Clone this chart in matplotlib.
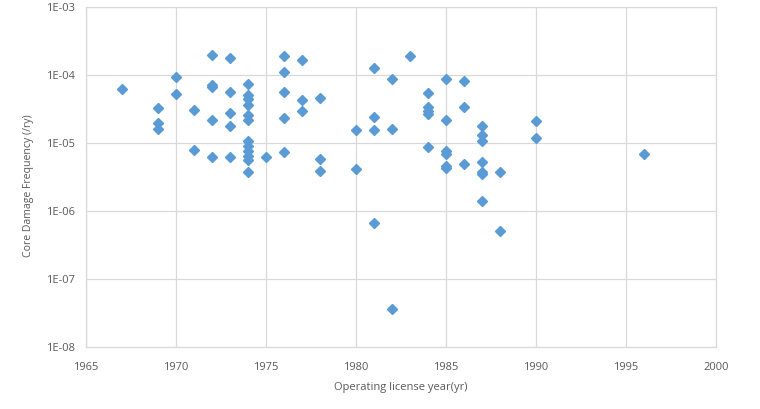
import matplotlib
matplotlib.use("Agg")
import matplotlib.pyplot as plt
from matplotlib.ticker import FixedLocator

plt.rcParams['font.family'] = ['Open Sans', 'DejaVu Sans']

years = [1967,
         1969, 1969, 1969,
         1970, 1970,
         1971, 1971,
         1972, 1972, 1972, 1972, 1972,
         1973, 1973, 1973, 1973, 1973,
         1974, 1974, 1974, 1974, 1974, 1974, 1974, 1974, 1974, 1974, 1974, 1974,
         1975,
         1976, 1976, 1976, 1976, 1976,
         1977, 1977, 1977,
         1978, 1978, 1978,
         1980, 1980,
         1981, 1981, 1981, 1981,
         1982, 1982, 1982,
         1983,
         1984, 1984, 1984, 1984, 1984,
         1985, 1985, 1985, 1985, 1985, 1985,
         1986, 1986, 1986,
         1987, 1987, 1987, 1987, 1987, 1987, 1987,
         1988, 1988,
         1990, 1990,
         1996]
cdf = [6.2e-5,
       3.3e-5, 2.0e-5, 1.6e-5,
       9.3e-5, 5.3e-5,
       3.1e-5, 7.9e-6,
       1.97e-4, 7.1e-5, 6.6e-5, 2.2e-5, 6.2e-6,
       1.78e-4, 5.6e-5, 2.75e-5, 1.8e-5, 6.2e-6,
       7.4e-5, 5.1e-5, 4.4e-5, 3.6e-5, 2.6e-5, 2.2e-5, 1.07e-5, 9.1e-6, 7.6e-6, 6.4e-6, 5.6e-6, 3.7e-6,
       6.2e-6,
       1.9e-4, 1.1e-4, 5.6e-5, 2.3e-5, 7.4e-6,
       1.66e-4, 4.3e-5, 2.95e-5,
       4.6e-5, 5.8e-6, 3.9e-6,
       1.55e-5, 4.2e-6,
       1.27e-4, 2.4e-5, 1.55e-5, 6.6e-7,
       8.7e-5, 1.6e-5, 3.6e-8,
       1.9e-4,
       5.5e-5, 3.4e-5, 3.0e-5, 2.7e-5, 8.8e-6,
       8.7e-5, 2.2e-5, 7.6e-6, 7.0e-6, 4.6e-6, 4.3e-6,
       8.1e-5, 3.4e-5, 4.9e-6,
       1.78e-5, 1.3e-5, 1.07e-5, 5.2e-6, 3.7e-6, 3.5e-6, 1.4e-6,
       3.7e-6, 5.1e-7,
       2.1e-5, 1.18e-5,
       6.9e-6]

x_ticks = [1965, 1970, 1975, 1980, 1985, 1990, 1995, 2000]
y_ticks = [1e-8, 1e-7, 1e-6, 1e-5, 1e-4, 1e-3]
y_tick_labels = ["1E-08", "1E-07", "1E-06", "1E-05", "1E-04", "1E-03"]

fig = plt.figure(figsize=(7.6, 4.09), dpi=100)
ax = fig.add_axes([86/760, 1-347/409, 630/760, 340/409])

ax.plot(years, cdf, linestyle='none', marker='D', markersize=5.3,
        color='#5B9BD5', markeredgecolor='#5B9BD5', zorder=3)

ax.set_yscale('log')
ax.set_xlim(1965, 2000)
ax.set_ylim(1e-8, 1e-3)
ax.xaxis.set_major_locator(FixedLocator(x_ticks))
ax.yaxis.set_major_locator(FixedLocator(y_ticks))
ax.yaxis.set_minor_locator(FixedLocator([]))
ax.set_yticklabels(y_tick_labels)
ax.set_xticklabels([str(v) for v in x_ticks])
ax.grid(True, color='#D9D9D9', linewidth=0.9)
ax.set_axisbelow(True)
for s in ax.spines.values():
    s.set_color('#D9D9D9')
    s.set_linewidth(0.9)
ax.tick_params(axis='both', length=0, labelsize=8, colors='#595959')
ax.tick_params(axis='x', pad=11)
ax.tick_params(axis='y', pad=8)

ax.set_xlabel('Operating license year(yr)', fontsize=8, color='#595959', labelpad=6)
ax.set_ylabel('Core Damage Frequency (/ry)', fontsize=7.6, color='#595959')
ax.yaxis.set_label_coords(-0.0825, 0.474)

fig.savefig('out.png', dpi=100)
